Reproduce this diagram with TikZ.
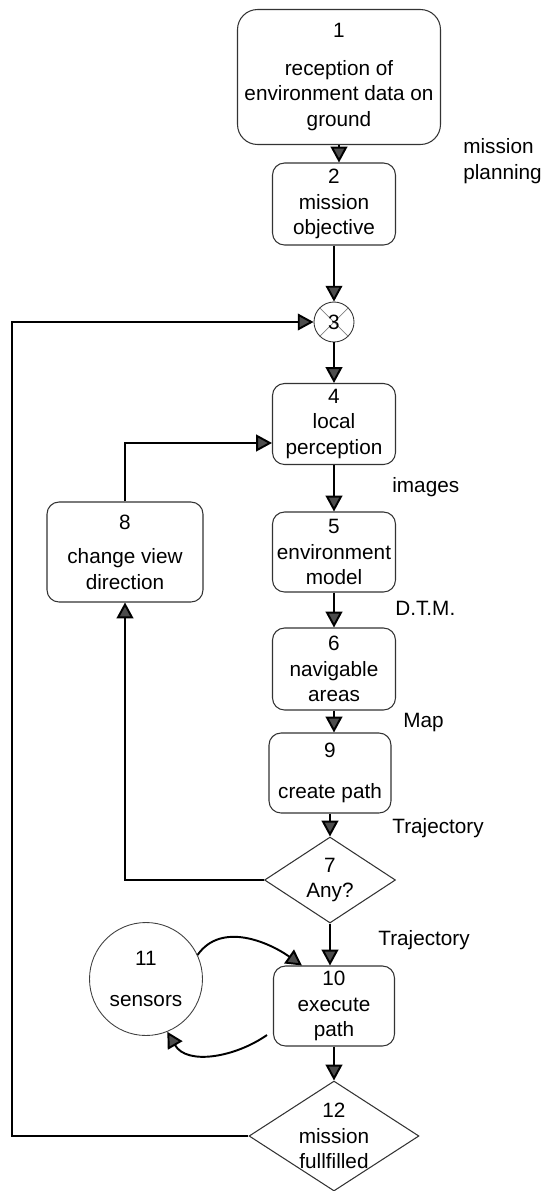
\documentclass[tikz,border=0pt]{standalone}
\usepackage{fontspec}
\setmainfont{Liberation Sans}
\usetikzlibrary{shapes.geometric,arrows.meta}

\begin{document}
\begin{tikzpicture}[x=0.02cm, y=-0.02cm,
  every node/.style={font=\fontsize{11.8pt}{14.6pt}\selectfont},
  box/.style={draw=black!80, line width=0.6pt, rectangle, rounded corners=0.24cm, align=center, inner sep=0pt},
  decision/.style={draw=black!80, line width=0.6pt, diamond, shape aspect=1.5, align=center, inner sep=0pt},
  disc/.style={draw=black!75, line width=0.5pt, circle, align=center, inner sep=0pt},
  tag/.style={anchor=west, align=left, inner sep=0pt},
  flow/.style={line width=1.1pt, -{Triangle[width=9.5pt,length=9pt,fill=black!70]}}]
  \useasboundingbox (0,0) rectangle (543,1191);

  \node (n1) [box, rounded corners=0.4cm, minimum width=4.06cm, minimum height=2.7cm] at (339,77) {1\\[7pt] reception of\\environment data on\\ground};
  \node (n2) [box, minimum width=2.46cm, minimum height=1.64cm] at (334,204) {2\\mission\\objective};
  \node (n3) [disc, draw=black!80, minimum size=0.8cm, path picture={
    \draw[black!50, line width=0.4pt] (path picture bounding box.north west) -- (path picture bounding box.south east)
      (path picture bounding box.north east) -- (path picture bounding box.south west);}] at (334,322) {3};
  \node (n4) [box, minimum width=2.46cm, minimum height=1.62cm] at (334,424) {4\\local\\perception};
  \node (n5) [box, minimum width=2.46cm, minimum height=1.6cm] at (334,552) {5\\environment\\model};
  \node (n6) [box, minimum width=2.46cm, minimum height=1.64cm] at (334,669) {6\\navigable\\areas};
  \node (n9) [box, minimum width=2.44cm, minimum height=1.6cm] at (330,773) {9\\[9pt] create path};
  \node (n7) [decision, minimum width=2.62cm, minimum height=1.72cm] at (330,880) {7\\Any?};
  \node (n8) [box, minimum width=3.12cm, minimum height=2.0cm] at (125,552) {8\\[5pt] change view\\direction};
  \node (n11) [disc, minimum size=2.26cm] at (146,979) {11\\[9pt] sensors};
  \node (n10) [box, minimum width=2.42cm, minimum height=1.6cm] at (334,1006) {10\\execute\\path};
  \node (n12) [decision, shape aspect=1.55, inner sep=-2pt, minimum width=3.4cm, minimum height=2.2cm] at (334,1136) {12\\mission\\fullfilled};

  \node (lplan) [tag] at (463,161) {mission\\planning};
  \node (limg) [tag] at (392,487) {images};
  \node (ldtm) [tag] at (395,608) {D.T.M.};
  \node (lmap) [tag] at (403,723) {Map};
  \node (ltraj) [tag] at (392,828) {Trajectory};
  \node (ltrajb) [tag] at (378,940) {Trajectory};

  \coordinate (rail) at (12,700);

  \draw[flow] (n1.south) -- (n1.south |- n2.north);
  \draw[flow] (n2) -- (n3);
  \draw[flow] (n3) -- (n4);
  \draw[flow] (n4) -- (n5);
  \draw[flow] (n5) -- (n6);
  \draw[flow] (n6.south) -- (n6.south |- n9.north);
  \draw[flow] (n9) -- (n7);
  \draw[flow] (n7.south) -- (n7.south |- n10.north);
  \draw[flow] (n10) -- (n12);
  \draw[flow] (n7.west) -| (n8.south);
  \draw[flow] (n8.north) |- ([yshift=-0.38cm]n4.west);
  \draw[flow] (n12.west) -- (n12.west -| rail) -- (rail |- n3.west) -- (n3.west);
  \draw[flow] (n11.25) to[out=55, in=145] ([xshift=0.58cm]n10.north west);
  \draw[flow] ([xshift=-0.12cm, yshift=-0.58cm]n10.west) to[out=215, in=-60] (n11.-68);
\end{tikzpicture}
\end{document}
